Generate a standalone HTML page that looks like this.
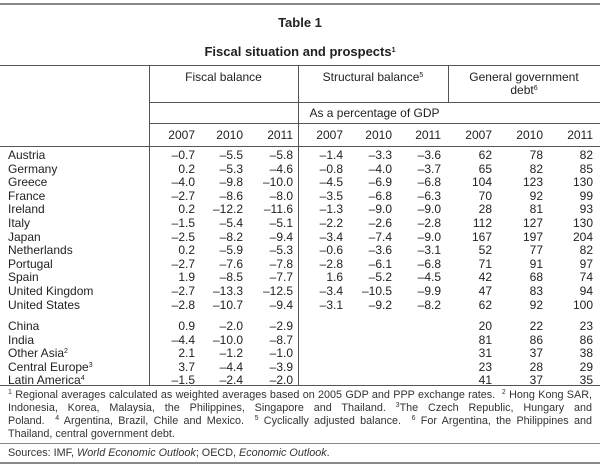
<!DOCTYPE html>
<html><head><meta charset="utf-8"><style>
body{margin:0;width:600px;height:465px;background:#fff;font-family:"Liberation Sans",sans-serif;color:#222;position:relative;overflow:hidden}
.a{position:absolute;white-space:nowrap;line-height:1}
.h{position:absolute;height:1px;background:#555;left:0;width:600px}
.v{position:absolute;width:1px;background:#555}
.n{position:absolute;font-size:12px;line-height:1;text-align:right;width:50px}
.l{position:absolute;left:8px;font-size:12px;line-height:1}
.fl{position:absolute;left:8px;width:584px;font-size:10.8px;line-height:1;text-align:justify;text-align-last:justify;color:#333;white-space:nowrap}
.fl.last{text-align-last:left}
.fn{position:absolute;left:8px;font-size:10.8px;line-height:1;color:#333;white-space:nowrap}
sup{font-size:7px;vertical-align:4px;line-height:0}
</style></head><body>
<div class="h" style="top:3px;height:2px;background:#888"></div>
<div class="a" style="top:16px;left:0;width:600px;text-align:center;font-weight:bold;font-size:13px">Table 1</div>
<div class="a" style="top:45px;left:0;width:600px;text-align:center;font-weight:bold;font-size:13px">Fiscal situation and prospects<sup>1</sup></div>
<div class="h" style="top:65px"></div>
<div class="v" style="left:149px;top:65px;height:320px"></div>
<div class="v" style="left:298px;top:65px;height:320px"></div>
<div class="v" style="left:448px;top:65px;height:37px"></div>
<div class="a" style="top:71px;left:149px;width:149px;text-align:center;font-size:12px">Fiscal balance</div>
<div class="a" style="top:71px;left:298px;width:150px;text-align:center;font-size:12px">Structural balance<sup>5</sup></div>
<div class="a" style="top:71px;left:448px;width:152px;text-align:center;font-size:12px;line-height:13px">General government<br>debt<sup>6</sup></div>
<div class="h" style="top:102px;left:149px;width:451px"></div>
<div class="a" style="top:107px;left:149px;width:451px;text-align:center;font-size:12px">As a percentage of GDP</div>
<div class="h" style="top:123px;left:149px;width:451px"></div>
<div class="h" style="top:146px"></div>
<div class="h" style="top:385px"></div>
<div class="h" style="top:443px;background:#888"></div>
<div class="h" style="top:462px;height:2px;background:#888"></div>
<div id="tbl"></div>
<div>
<div class="fl" style="top:390px"><sup>1</sup> Regional averages calculated as weighted averages based on 2005 GDP and PPP exchange rates. &nbsp;<sup>2</sup> Hong Kong SAR,</div>
<div class="fl" style="top:403px">Indonesia, Korea, Malaysia, the Philippines, Singapore and Thailand. <sup>3</sup>The Czech Republic, Hungary and</div>
<div class="fl" style="top:416px">Poland. &nbsp;<sup>4</sup> Argentina, Brazil, Chile and Mexico. &nbsp;<sup>5</sup> Cyclically adjusted balance. &nbsp;<sup>6</sup> For Argentina, the Philippines and</div>
<div class="fl last" style="top:429px">Thailand, central government debt.</div>
</div>
<div class="fn" style="top:448px">Sources: IMF, <i>World Economic Outlook</i>; OECD, <i>Economic Outlook</i>.</div>
<script>
const years=["2007","2010","2011","2007","2010","2011","2007","2010","2011"];
const countries=["Austria","Germany","Greece","France","Ireland","Italy","Japan","Netherlands","Portugal","Spain","United Kingdom","United States"];
const regions=["China","India","Other Asia","Central Europe","Latin America"];
const regionSup=["","","2","3","4"];
const countryValues=[
["–0.7","–5.5","–5.8","–1.4","–3.3","–3.6","62","78","82"],
["0.2","–5.3","–4.6","–0.8","–4.0","–3.7","65","82","85"],
["–4.0","–9.8","–10.0","–4.5","–6.9","–6.8","104","123","130"],
["–2.7","–8.6","–8.0","–3.5","–6.8","–6.3","70","92","99"],
["0.2","–12.2","–11.6","–1.3","–9.0","–9.0","28","81","93"],
["–1.5","–5.4","–5.1","–2.2","–2.6","–2.8","112","127","130"],
["–2.5","–8.2","–9.4","–3.4","–7.4","–9.0","167","197","204"],
["0.2","–5.9","–5.3","–0.6","–3.6","–3.1","52","77","82"],
["–2.7","–7.6","–7.8","–2.8","–6.1","–6.8","71","91","97"],
["1.9","–8.5","–7.7","1.6","–5.2","–4.5","42","68","74"],
["–2.7","–13.3","–12.5","–3.4","–10.5","–9.9","47","83","94"],
["–2.8","–10.7","–9.4","–3.1","–9.2","–8.2","62","92","100"]];
const regionValues=[
["0.9","–2.0","–2.9","","","","20","22","23"],
["–4.4","–10.0","–8.7","","","","81","86","86"],
["2.1","–1.2","–1.0","","","","31","37","38"],
["3.7","–4.4","–3.9","","","","23","28","29"],
["–1.5","–2.4","–2.0","","","","41","37","35"]];
const colRight=[195,243,293,343,392,441,492,543,593];
const t=document.getElementById('tbl');
function cell(txt,right,y,name){const d=document.createElement('div');d.className='n';d.style.left=(right-50)+'px';d.style.top=y+'px';d.textContent=txt;


t.appendChild(d);}
years.forEach((y,i)=>cell(y,colRight[i],129,'year-header-'+i));
function row(label,sup,vals,y,key){const l=document.createElement('div');l.className='l';l.style.top=y+'px';l.innerHTML=label+(sup?'<sup>'+sup+'</sup>':'');


t.appendChild(l);vals.forEach((v,i)=>{if(v)cell(v,colRight[i],y,'cell-'+key+'-'+i);});}
countries.forEach((c,i)=>row(c,'',countryValues[i],149+i*13.6,c.toLowerCase().replace(/ /g,'-')));
regions.forEach((c,i)=>row(c,regionSup[i],regionValues[i],320+i*13.5,c.toLowerCase().replace(/ /g,'-')));
</script>
</body></html>
